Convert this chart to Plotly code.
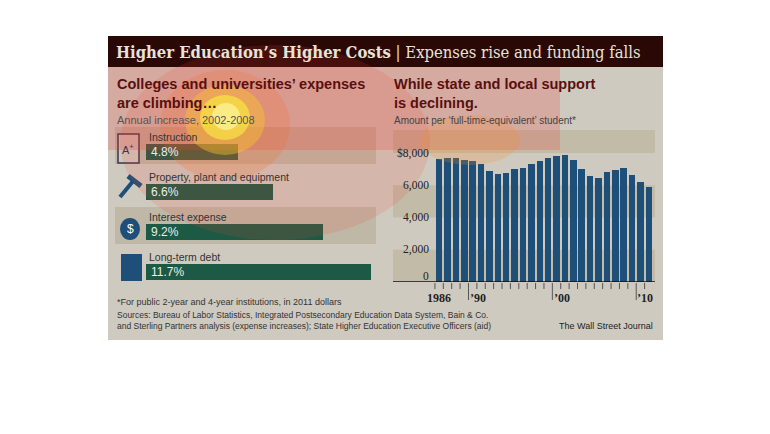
import plotly.graph_objects as go

W, H = 770, 434
OFF = 8  # page body margin
def px(x): return (x - OFF) / W
def py(y): return 1 - (y - OFF) / H

# ---- data ----
exp_categories = ["Instruction", "Property, plant and equipment", "Interest expense", "Long-term debt"]
exp_values = [4.8, 6.6, 9.2, 11.7]
years = list(range(1986, 2012))
support = [7600, 7710, 7710, 7580, 7500, 7310, 6900, 6690, 6750, 6980, 7070, 7330, 7520,
           7710, 7810, 7880, 7580, 7000, 6550, 6480, 6800, 6960, 7090, 6630, 6190, 5920]
y_ticks = [0, 2000, 4000, 6000, 8000]
y_tick_labels = ["0", "2,000", "4,000", "6,000", "$8,000"]
x_tick_years = [1986, 1990, 2000, 2010]
x_tick_labels = ["1986", "’90", "’00", "’10"]

GREEN = "#1d5a45"
BLUE = "#1d4f78"
fig = go.Figure()

fig.add_trace(go.Bar(x=exp_values, y=list(range(len(exp_values))), orientation="h",
                     marker=dict(color=GREEN, line=dict(width=0)), width=0.4,
                     xaxis="x", yaxis="y", hoverinfo="skip"))
fig.add_trace(go.Bar(x=years, y=support, marker=dict(color=BLUE, line=dict(width=0)),
                     width=0.78, xaxis="x2", yaxis="y2", hoverinfo="skip"))

shapes, ann = [], []
shapes.append(dict(type="rect", xref="paper", yref="paper", x0=px(108), x1=px(663), y0=py(340), y1=py(36),
                   fillcolor="#cfcac0", line=dict(width=0), layer="below"))
shapes.append(dict(type="rect", xref="paper", yref="paper", x0=px(108), x1=px(663), y0=py(67), y1=py(36),
                   fillcolor="#2a0806", line=dict(width=0), layer="below"))
for i in [0, 2]:
    yc = 152 + 40 * i
    shapes.append(dict(type="rect", xref="paper", yref="paper", x0=px(115), x1=px(376),
                       y0=py(yc + 12), y1=py(yc - 25), fillcolor="#bfb8a6", line=dict(width=0), layer="below"))
for lo, hi in [(8000, 9426), (4000, 6000), (0, 2000)]:
    shapes.append(dict(type="rect", xref="x2 domain", yref="y2", x0=0, x1=1, y0=lo, y1=hi,
                       fillcolor="#c2bba7", line=dict(width=0), layer="below"))
shapes.append(dict(type="line", xref="x2 domain", yref="y2", x0=0, x1=1, y0=0, y1=0,
                   line=dict(color="#111", width=1.5)))
for yr in years:
    long = yr in (1990, 2000, 2010)
    shapes.append(dict(type="line", xref="x2", yref="paper", x0=yr - 0.5, x1=yr - 0.5,
                       y0=py(283), y1=py(300 if long else 289), line=dict(color="#555", width=1)))
# icons (simple)
shapes.append(dict(type="rect", xref="paper", yref="paper", x0=px(118), x1=px(139), y0=py(163), y1=py(134),
                   fillcolor="#cfcac0", line=dict(color="#3a3550", width=1.5)))
shapes.append(dict(type="line", xref="paper", yref="paper", x0=px(120), x1=px(134), y0=py(197), y1=py(180),
                   line=dict(color=BLUE, width=4)))
shapes.append(dict(type="line", xref="paper", yref="paper", x0=px(128), x1=px(141), y0=py(176), y1=py(186),
                   line=dict(color=BLUE, width=5)))
shapes.append(dict(type="circle", xref="paper", yref="paper", x0=px(120), x1=px(140), y0=py(240), y1=py(218),
                   fillcolor=BLUE, line=dict(width=0)))
shapes.append(dict(type="rect", xref="paper", yref="paper", x0=px(121), x1=px(142), y0=py(281), y1=py(254),
                   fillcolor=BLUE, line=dict(width=0)))

def T(text, x, y, size, color="#222", family="Liberation Sans", xanchor="left", yanchor="middle"):
    ann.append(dict(text=text, xref="paper", yref="paper", x=px(x), y=py(y), showarrow=False,
                    xanchor=xanchor, yanchor=yanchor, align="left",
                    font=dict(size=size, color=color, family=family)))

T("A<sup>+</sup>", 128, 149, 11, color="#3a3550", xanchor="center")
T("$", 130, 229, 12, color="white", xanchor="center")
T("<b>Higher Education’s Higher Costs</b> | Expenses rise and funding falls", 114, 53, 16.5,
  color="#e8e2d8", family="DejaVu Serif Condensed")
T("<b>Colleges and universities’ expenses<br>are climbing…</b>", 115, 93, 14.5, color="#5a0f0f")
T("Annual increase, 2002-2008", 115, 120, 11, color="#555")
T("<b>While state and local support<br>is declining.</b>", 392, 93, 14.5, color="#5a0f0f")
T("Amount per ‘full-time-equivalent’ student*", 392, 120, 10, color="#444")
for i, (c, v) in enumerate(zip(exp_categories, exp_values)):
    yc = 152 + 40 * i
    T(c, 147, yc - 15, 10.5, color="#333")
    T(f"{v}%", 149, yc, 12, color="#e6efe9")
for v, l in zip(y_ticks, y_tick_labels):
    ann.append(dict(text=l, xref="paper", yref="y2", x=px(431), y=v + (350 if v == 0 else 0),
                    showarrow=False, xanchor="right",
                    yanchor="middle", font=dict(size=11.5, color="#222", family="Liberation Sans Narrow")))
for yv, l in zip(x_tick_years, x_tick_labels):
    ann.append(dict(text="<b>" + l + "</b>", xref="x2", yref="paper", x=yv + (0.6 if yv != 1986 else 0),
                    y=py(298), showarrow=False, xanchor="center",
                    yanchor="middle", font=dict(size=12, color="#222", family="Liberation Serif")))
T("*For public 2-year and 4-year institutions, in 2011 dollars", 115, 302, 9, color="#333")
T("Sources: Bureau of Labor Statistics, Integrated Postsecondary Education Data System, Bain & Co.<br>"
  "and Sterling Partners analysis (expense increases); State Higher Education Executive Officers (aid)",
  115, 320, 8.5, color="#333")
T("The Wall Street Journal", 655, 326, 9, color="#222", xanchor="right")

# heatmap-like overlay
overlay = [
    (108, 560, 67, 150, "rgba(235,60,50,0.22)", "rect"),
    (120, 430, 45, 240, "rgba(240,70,50,0.15)", "circle"),
    (160, 290, 70, 180, "rgba(250,110,40,0.22)", "circle"),
    (185, 265, 85, 155, "rgba(250,200,40,0.42)", "circle"),
    (200, 250, 95, 140, "rgba(255,255,60,0.5)", "circle"),
    (212, 240, 103, 130, "rgba(255,255,180,0.55)", "circle"),
    (420, 520, 115, 165, "rgba(250,140,40,0.22)", "circle"),
]
for x0, x1, y0, y1, c, t in overlay:
    shapes.append(dict(type=t, xref="paper", yref="paper", x0=px(x0), x1=px(x1), y0=py(y1), y1=py(y0),
                       fillcolor=c, line=dict(width=0), layer="above"))

fig.update_layout(
    width=W, height=H, margin=dict(l=0, r=0, t=0, b=0), paper_bgcolor="white", plot_bgcolor="rgba(0,0,0,0)",
    showlegend=False, shapes=shapes, annotations=ann, bargap=0,
    xaxis=dict(domain=[px(146), px(371)], range=[0, 11.7], visible=False, fixedrange=True),
    yaxis=dict(domain=[py(292), py(132)], range=[3.5, -0.5], visible=False, fixedrange=True),
    xaxis2=dict(domain=[px(393), px(655)], range=[1980.5, 2011.74], visible=False, anchor="y2"),
    yaxis2=dict(domain=[py(282), py(130)], range=[0, 9426], visible=False, anchor="x2"),
)
fig.write_html("out.html")
